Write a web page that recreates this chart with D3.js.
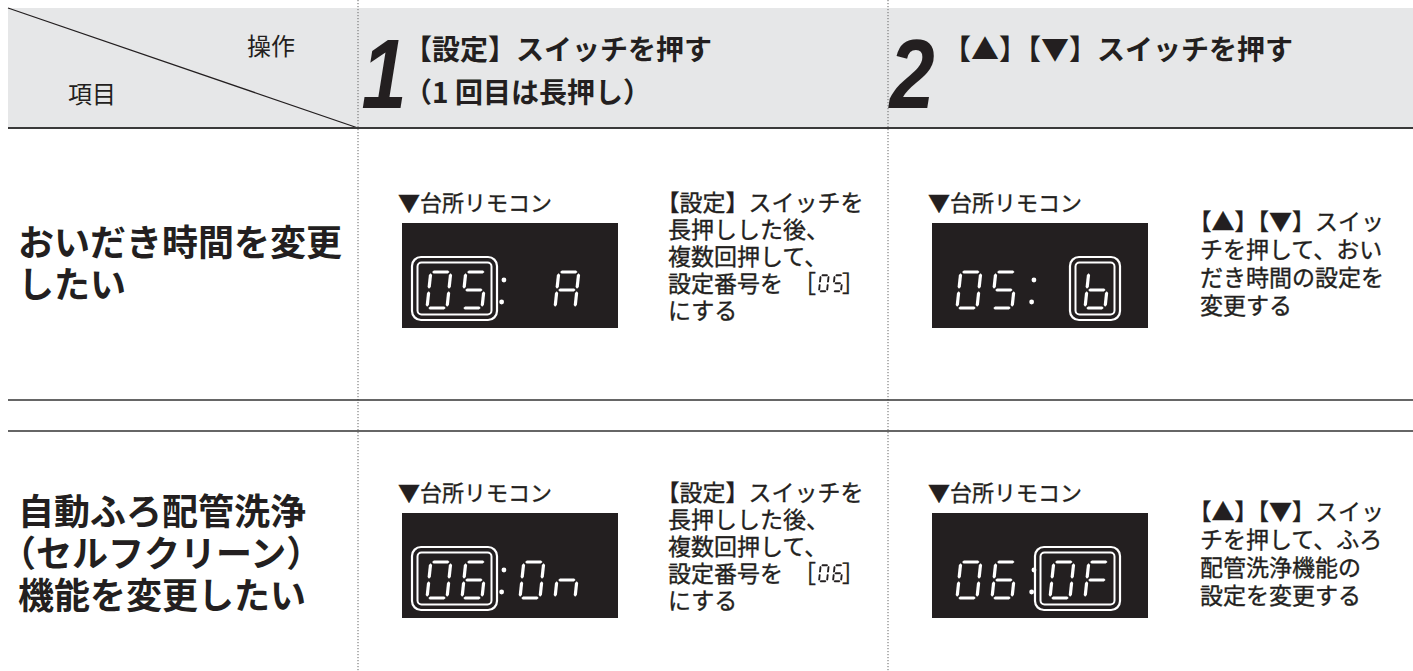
<!DOCTYPE html>
<html>
<head>
<meta charset="utf-8">
<script src="https://cdn.jsdelivr.net/npm/d3@7"></script>
<style>
  body { margin: 0; background: #fff; }
  text { font-family: "Noto Sans CJK JP", sans-serif; fill: #231f20; }
  .medium { stroke: #231f20; stroke-width: 0.35px; }
</style>
</head>
<body>
<div id="chart"></div>
<script>
var width = 1413;
var height = 671;

// table texts
var cornerLabels = ["項目", "操作"];
var stepNumbers = ["1", "2"];
var stepTitles = [["【設定】スイッチを押す", "（1 回目は長押し）"], ["【▲】【▼】スイッチを押す"]];
var rowLabels = [["おいだき時間を変更", "したい"], ["自動ふろ配管洗浄", "（セルフクリーン）", "機能を変更したい"]];
var remoteLabel = "▼台所リモコン";
var step1Notes = [
  ["【設定】スイッチを", "長押しした後、", "複数回押して、", "設定番号を［05］", "にする"],
  ["【設定】スイッチを", "長押しした後、", "複数回押して、", "設定番号を［06］", "にする"]
];
var step2Notes = [
  ["【▲】【▼】スイッ", "チを押して、おい", "だき時間の設定を", "変更する"],
  ["【▲】【▼】スイッ", "チを押して、ふろ", "配管洗浄機能の", "設定を変更する"]
];

// remote display contents
var displayCodes = ["05", "06"];
var step1Values = ["A", "On"];
var step2Values = ["b", "OF"];

// seven segment patterns
var segMap = { "0": "abcdef", "5": "acdfg", "6": "acdefg", "A": "abcefg", "b": "cdefg", "O": "abcdef", "n": "ceg", "F": "aefg" };
var segDefs = {
  a: [0, 0, 1, 0], b: [1, 0, 1, 0.5], c: [1, 0.5, 1, 1], d: [0, 1, 1, 1],
  e: [0, 0.5, 0, 1], f: [0, 0, 0, 0.5], g: [0, 0.5, 1, 0.5]
};

var svg = d3.select("#chart")
  .append("svg")
  .attr("width", width)
  .attr("height", height);

// layout
var colX = [8, 358, 888, width];
var headerTop = 8, headerBottom = 128;
var rowLines = [400, 431];
var rowShift = d3.scaleLinear().domain([0, 1]).range([0, 290]); // row 2 content sits 290px below row 1

// header band
svg.append("rect")
  .attr("x", colX[0]).attr("y", headerTop)
  .attr("width", width - colX[0]).attr("height", headerBottom - headerTop)
  .style("fill", "#e6e7e8");

svg.append("line")
  .attr("x1", colX[0]).attr("y1", headerTop)
  .attr("x2", colX[1]).attr("y2", headerBottom)
  .style("stroke", "#231f20").style("stroke-width", 1.3);

// dotted column separators
svg.selectAll(".vsep")
  .data([colX[1], colX[2]])
  .enter().append("line")
  .attr("class", "vsep")
  .attr("x1", function(d) { return d; }).attr("x2", function(d) { return d; })
  .attr("y1", 0).attr("y2", height)
  .style("stroke", "#666").style("stroke-width", 1)
  .style("stroke-dasharray", "1.2,1.8");

// horizontal rules
svg.append("line")
  .attr("x1", colX[0]).attr("x2", width)
  .attr("y1", headerBottom).attr("y2", headerBottom)
  .style("stroke", "#3a3a3a").style("stroke-width", 2);

svg.selectAll(".hrule")
  .data(rowLines)
  .enter().append("line")
  .attr("class", "hrule")
  .attr("x1", colX[0]).attr("x2", width)
  .attr("y1", function(d) { return d; }).attr("y2", function(d) { return d; })
  .style("stroke", "#333").style("stroke-width", 1.4);

// one text block, one tspan per line; lines starting with an opening bracket are pulled back half a character
function lines(arr, x, yFirst, step, size, weight) {
  var t = svg.append("text")
    .style("font-size", size + "px")
    .style("font-weight", weight);
  t.selectAll("tspan")
    .data(arr)
    .enter().append("tspan")
    .attr("x", function(d) { return /^[【（［]/.test(d) ? x - size * 0.5 : x; })
    .attr("y", function(d, i) { return yFirst + i * step + size * 0.36; })
    .text(function(d) { return d; });
  return t;
}

// corner labels
lines([cornerLabels[0]], 68, 94, 0, 24, 400);
lines([cornerLabels[1]], 247, 46, 0, 24, 400);

// step numbers
var numX = [384, 912];
svg.selectAll(".stepnum")
  .data(stepNumbers)
  .enter().append("text")
  .attr("class", "stepnum")
  .attr("transform", function(d, i) { return "translate(" + numX[i] + ",108) scale(0.82,1)"; })
  .attr("text-anchor", "middle")
  .style("font-family", "'Liberation Sans', Arial, sans-serif")
  .style("font-weight", "bold")
  .style("font-style", "italic")
  .style("font-size", "99px")
  .text(function(d) { return d; });

// step titles
lines(stepTitles[0], 418, 50, 43, 28, 700);
lines(stepTitles[1], 957, 50, 43, 28, 700);

// row labels
var labelStep = 42;
rowLabels.forEach(function(lab, r) {
  var mid = 264 + rowShift(r);
  var first = mid - (lab.length - 1) * labelStep / 2;
  lines(lab, 18, first, labelStep, 36, 700);
});

// seven segment character
var skew = Math.tan(6 * Math.PI / 180);
var lineGen = d3.line();
function drawChar(g, ch, x, y, w, h, t, gap, color) {
  var sx = d3.scaleLinear().domain([0, 1]).range([x, x + w]);
  var sy = d3.scaleLinear().domain([0, 1]).range([y, y + h]);
  var segs = (segMap[ch] || "").split("");
  g.selectAll(null)
    .data(segs)
    .enter().append("path")
    .attr("d", function(s) {
      var d = segDefs[s];
      var x1 = sx(d[0]), y1 = sy(d[1]), x2 = sx(d[2]), y2 = sy(d[3]);
      var h2 = t / 2, pts;
      if (y1 === y2) {
        x1 += gap; x2 -= gap;
        pts = [[x1, y1], [x1 + h2, y1 - h2], [x2 - h2, y1 - h2], [x2, y1], [x2 - h2, y1 + h2], [x1 + h2, y1 + h2]];
      } else {
        y1 += gap; y2 -= gap;
        pts = [[x1, y1], [x1 + h2, y1 + h2], [x1 + h2, y2 - h2], [x1, y2], [x1 - h2, y2 - h2], [x1 - h2, y1 + h2]];
      }
      pts = pts.map(function(p) { return [p[0] + (y + h - p[1]) * skew, p[1]]; });
      return lineGen(pts) + "Z";
    })
    .style("fill", color || "#fff");
}

function frame(g, x1, y1, x2, y2) {
  g.append("rect")
    .attr("x", x1).attr("y", y1).attr("width", x2 - x1).attr("height", y2 - y1)
    .attr("rx", 9)
    .style("fill", "none").style("stroke", "#fff").style("stroke-width", 2.2);
  g.append("rect")
    .attr("x", x1 + 5.5).attr("y", y1 + 5.5).attr("width", x2 - x1 - 11).attr("height", y2 - y1 - 11)
    .attr("rx", 4)
    .style("fill", "none").style("stroke", "#fff").style("stroke-width", 2);
}

var lcdW = 216, lcdH = 105;
var digitW = 20, digitH = 36, digitTop = 49;
var codeSlots = [25, 60], valueSlots = [118, 153];
function drawLCD(x0, y0, code, value, hi) {
  var g = svg.append("g").attr("transform", "translate(" + x0 + "," + y0 + ")");
  g.append("rect").attr("width", lcdW).attr("height", lcdH).style("fill", "#231f20");
  code.split("").forEach(function(c, i) {
    drawChar(g, c, codeSlots[i], digitTop, digitW, digitH, 3.2, 1.3);
  });
  var vs = valueSlots.slice(valueSlots.length - value.length);
  value.split("").forEach(function(c, i) {
    drawChar(g, c, vs[i], digitTop, digitW, digitH, 3.2, 1.3);
  });
  g.selectAll(null)
    .data([57, 79])
    .enter().append("circle")
    .attr("cx", function(d) { return 99 + (digitTop + digitH - d) * skew; })
    .attr("cy", function(d) { return d; })
    .attr("r", 2.4)
    .style("fill", "#fff");
  var slots = hi === "code" ? codeSlots : vs;
  frame(g, slots[0] - 15, 34, slots[slots.length - 1] + digitW + 15, 97);
}

// note block; a "［nn］" number is drawn in seven segment style inside the line
function notes(arr, x, yFirst, step, size) {
  var t = lines(arr, x, yFirst, step, size, 400).attr("class", "medium");
  t.selectAll("tspan").each(function(line, i) {
    var m = line.match(/^(.*)(［)(\d+)(］)$/);
    if (!m) return;
    var ts = d3.select(this);
    var y = +ts.attr("y");
    ts.text(m[1]);
    var x0 = +ts.attr("x");
    var bx = x0 + this.getComputedTextLength() + 10;   // open bracket box
    var px = bx + size + 3;                               // first digit
    var pitch = 14;
    t.append("tspan").attr("x", bx).attr("y", y).text(m[2]);
    t.append("tspan").attr("x", px + m[3].length * pitch - 5).attr("y", y).text(m[4]);
    var g = svg.append("g");
    m[3].split("").forEach(function(c, k) {
      drawChar(g, c, px + k * pitch, y - 17, 8, 16, 1.9, 0.6, "#231f20");
    });
  });
}

[0, 1].forEach(function(r) {
  var dy = rowShift(r);
  lines([remoteLabel], 398, 203 + dy, 0, 22, 400).attr("class", "medium");
  lines([remoteLabel], 928, 203 + dy, 0, 22, 400).attr("class", "medium");
  drawLCD(402, 223 + dy, displayCodes[r], step1Values[r], "code");
  drawLCD(932, 223 + dy, displayCodes[r], step2Values[r], "value");
  notes(step1Notes[r], 668, 203 + dy, 27, 23);
  notes(step2Notes[r], 1200, 222 + dy, 28, 23);
});
</script>
</body>
</html>
